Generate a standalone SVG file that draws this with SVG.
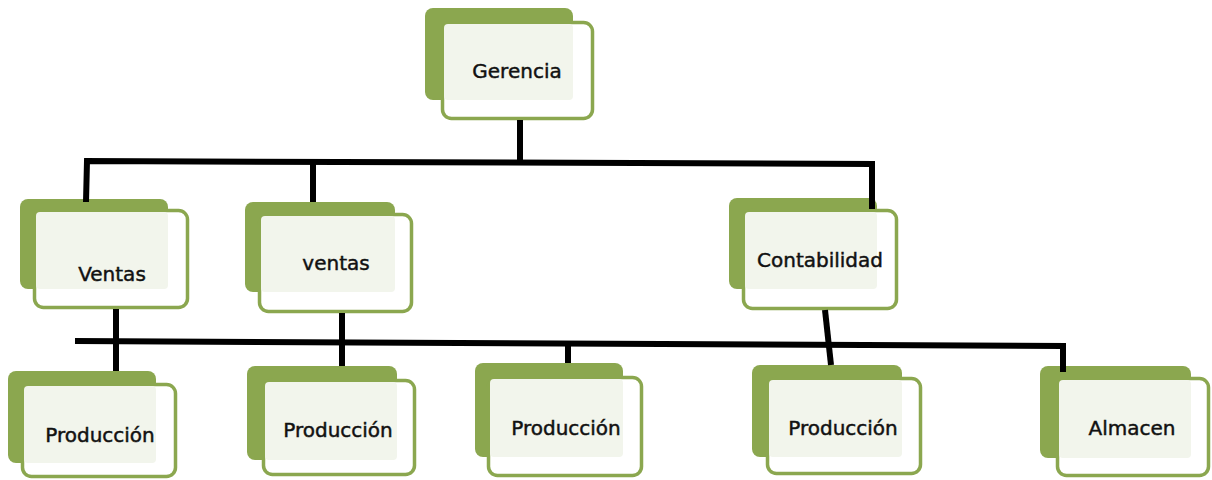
<svg xmlns="http://www.w3.org/2000/svg" width="1212" height="480" viewBox="0 0 1212 480">
<style>
.back{fill:#8ba74f}
.front{fill:#ffffff;stroke:#8ba74f;stroke-width:3.5}
.light{fill:#f2f5ec}
.lbl{font-family:"DejaVu Sans",sans-serif;font-size:20px;fill:#111;stroke:#111;stroke-width:0.45;text-anchor:middle}
.con{fill:none;stroke:#000;stroke-width:6;stroke-linejoin:miter;stroke-linecap:butt}
</style>
<rect width="1212" height="480" fill="#ffffff"/>
<g id="n-gerencia">
<rect class="back" x="425" y="8" width="148" height="92" rx="8"/>
<rect class="front" x="442.5" y="22.5" width="150" height="96" rx="9"/>
<rect class="light" x="444" y="24" width="129" height="76" rx="4"/>
<text class="lbl" x="517" y="78">Gerencia</text>
</g>
<g id="n-ventas1">
<rect class="back" x="20" y="199" width="148" height="90" rx="8"/>
<rect class="front" x="34.5" y="210.5" width="153" height="97" rx="9"/>
<rect class="light" x="36" y="212" width="132" height="77" rx="4"/>
<text class="lbl" x="112" y="281">Ventas</text>
</g>
<g id="n-ventas2">
<rect class="back" x="245" y="202" width="150" height="90" rx="8"/>
<rect class="front" x="259.5" y="214.5" width="152" height="97" rx="9"/>
<rect class="light" x="261" y="216" width="134" height="76" rx="4"/>
<text class="lbl" x="336" y="270">ventas</text>
</g>
<g id="n-contabilidad">
<rect class="back" x="729" y="198" width="148" height="91" rx="8"/>
<rect class="front" x="743.5" y="210.5" width="153" height="98" rx="9"/>
<rect class="light" x="745" y="212" width="132" height="77" rx="4"/>
<text class="lbl" x="820" y="267">Contabilidad</text>
</g>
<g id="n-produccion1">
<rect class="back" x="8" y="371" width="148" height="92" rx="8"/>
<rect class="front" x="22.5" y="384.5" width="153" height="92" rx="9"/>
<rect class="light" x="24" y="386" width="132" height="77" rx="4"/>
<text class="lbl" x="100" y="442">Producción</text>
</g>
<g id="n-produccion2">
<rect class="back" x="247" y="366" width="150" height="94" rx="8"/>
<rect class="front" x="263.5" y="380.5" width="151" height="94" rx="9"/>
<rect class="light" x="265" y="382" width="132" height="78" rx="4"/>
<text class="lbl" x="338" y="437">Producción</text>
</g>
<g id="n-produccion3">
<rect class="back" x="475" y="363" width="148" height="94" rx="8"/>
<rect class="front" x="488.5" y="377.5" width="153" height="98" rx="9"/>
<rect class="light" x="490" y="379" width="133" height="78" rx="4"/>
<text class="lbl" x="566" y="435">Producción</text>
</g>
<g id="n-produccion4">
<rect class="back" x="752" y="365" width="150" height="92" rx="8"/>
<rect class="front" x="767.5" y="378.5" width="153" height="95" rx="9"/>
<rect class="light" x="769" y="380" width="133" height="77" rx="4"/>
<text class="lbl" x="843" y="435">Producción</text>
</g>
<g id="n-almacen">
<rect class="back" x="1040" y="366" width="151" height="92" rx="8"/>
<rect class="front" x="1057.5" y="378.5" width="151" height="97" rx="9"/>
<rect class="light" x="1059" y="380" width="132" height="78" rx="4"/>
<text class="lbl" x="1132" y="435">Almacen</text>
</g>
<g id="connectors">
<path class="con" d="M520 120 L520 163"/>
<path class="con" d="M86 202 L87 161 L872 164 L872 209"/>
<path class="con" d="M313 162 L313 202"/>
<path class="con" d="M116 309 L116 371"/>
<path class="con" d="M342 313 L342 366"/>
<path class="con" d="M75 341 L1063 346 L1063 372"/>
<path class="con" d="M568 343 L568 363"/>
<path class="con" d="M825 310 L831 365"/>
</g>
</svg>
